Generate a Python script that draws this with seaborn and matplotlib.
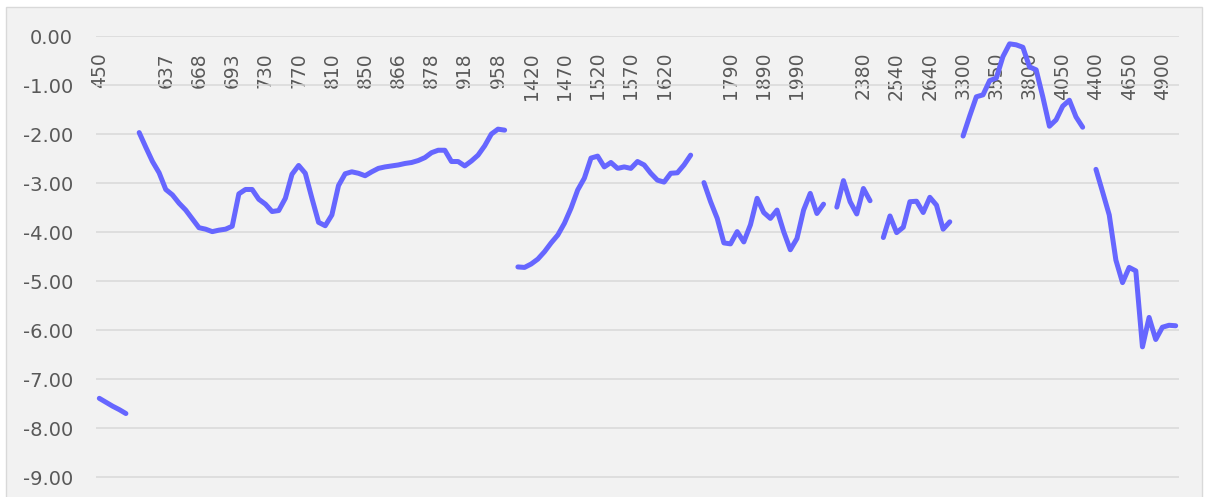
import numpy as np
import pandas as pd
import matplotlib
matplotlib.use("Agg")
import matplotlib.pyplot as plt
from matplotlib.patches import Rectangle
import seaborn as sns

nan = np.nan

# values per category (163 categories, gaps = NaN)
values = [
    -7.39, -7.47, -7.55, -7.62, -7.70, nan, -1.97, -2.27, -2.56, -2.79,   # 0-9
    -3.13, -3.24, -3.41, -3.55, -3.73, -3.91, -3.94, -3.99, -3.96, -3.94,  # 10-19
    -3.88, -3.22, -3.13, -3.13, -3.33, -3.43, -3.58, -3.56, -3.31, -2.82,  # 20-29
    -2.64, -2.80, -3.31, -3.80, -3.87, -3.65, -3.05, -2.81, -2.77, -2.80,  # 30-39
    -2.85, -2.77, -2.70, -2.67, -2.65, -2.63, -2.60, -2.58, -2.54, -2.48,  # 40-49
    -2.38, -2.33, -2.33, -2.56, -2.56, -2.65, -2.55, -2.43, -2.24, -2.00,  # 50-59
    -1.90, -1.92, nan, -4.71, -4.72, -4.65, -4.55, -4.40, -4.22, -4.06,    # 60-69
    -3.82, -3.51, -3.14, -2.90, -2.49, -2.45, -2.67, -2.58, -2.70, -2.67,  # 70-79
    -2.70, -2.56, -2.63, -2.80, -2.94, -2.98, -2.80, -2.79, -2.63, -2.43,  # 80-89
    nan, -2.99, -3.38, -3.72, -4.22, -4.24, -3.99, -4.20, -3.85, -3.31,    # 90-99
    -3.60, -3.72, -3.55, -3.99, -4.36, -4.13, -3.55, -3.21, -3.62, -3.43,  # 100-109
    nan, -3.49, -2.95, -3.38, -3.63, -3.11, -3.36, nan, -4.11, -3.67,      # 110-119
    -4.01, -3.90, -3.38, -3.37, -3.60, -3.29, -3.45, -3.94, -3.79, nan,    # 120-129
    -2.04, -1.63, -1.24, -1.20, -0.91, -0.86, -0.42, -0.16, -0.18, -0.23,  # 130-139
    -0.63, -0.69, -1.24, -1.84, -1.71, -1.43, -1.31, -1.65, -1.86, nan,    # 140-149
    -2.72, -3.18, -3.65, -4.57, -5.03, -4.72, -4.79, -6.34, -5.74, -6.19,  # 150-159
    -5.94, -5.90, -5.91,                                                   # 160-162
]

# visible category labels (every 5th category)
tick_labels = ['450', '', '637', '668', '693', '730', '770', '810', '850', '866',
               '878', '918', '958', '1420', '1470', '1520', '1570', '1620', '',
               '1790', '1890', '1990', '', '2380', '2540', '2640', '3300', '3550',
               '3800', '4050', '4400', '4650', '4900']
label_step = 5

y_ticks = [0, -1, -2, -3, -4, -5, -6, -7, -8, -9]

# ---------------------------------------------------------------------------
n = len(values)
df = pd.DataFrame({"idx": np.arange(n), "value": values})
df["seg"] = df["value"].isna().cumsum()
df = df.dropna()

sns.set_theme(style="white")
plt.rcParams["font.family"] = ["DejaVu Sans"]
plt.rcParams["axes.unicode_minus"] = False

W, H = 1205, 497
fig = plt.figure(figsize=(W / 100, H / 100), dpi=100)
fig.patch.set_facecolor("white")

# chart area background
fig.patches.append(Rectangle((6 / W, -0.02), (1202 - 6) / W, 1 - 7 / H + 0.02,
                             transform=fig.transFigure, facecolor="#F2F2F2",
                             edgecolor="#D9D9D9", linewidth=1.0, zorder=-5))

left, right = 96 / W, 1179 / W
top = 1 - 36 / H
ax = fig.add_axes([left, 0, right - left, top])
ax.set_facecolor("none")
ax.set_zorder(1)

sns.lineplot(data=df, x="idx", y="value", units="seg", estimator=None,
             color="#6666FF", linewidth=3.6, ax=ax, legend=False,
             solid_capstyle="round", solid_joinstyle="round")

ax.set_xlim(-0.5, n - 0.5)
ax.set_ylim(-(H - 36) / 49.03, 0)

ax.set_yticks(y_ticks)
ax.set_yticklabels([f"{v:.2f}" for v in y_ticks])
ax.yaxis.grid(True, color="#D9D9D9", linewidth=1.1)
ax.xaxis.grid(False)
ax.set_axisbelow(True)

ax.xaxis.tick_top()
ax.set_xticks(np.arange(0, n, label_step)[:len(tick_labels)])
ax.set_xticklabels(tick_labels, rotation=90)
for lbl in ax.get_xticklabels():
    lbl.set_va("top")
ax.tick_params(axis="x", length=0, pad=-11.5, labelsize=13.5, colors="#595959",
               labeltop=True, labelbottom=False)
ax.tick_params(axis="y", length=0, pad=16.5, labelsize=14, colors="#595959")

ax.set_xlabel("")
ax.set_ylabel("")
for s in ax.spines.values():
    s.set_visible(False)

fig.savefig("out.png", dpi=100)
